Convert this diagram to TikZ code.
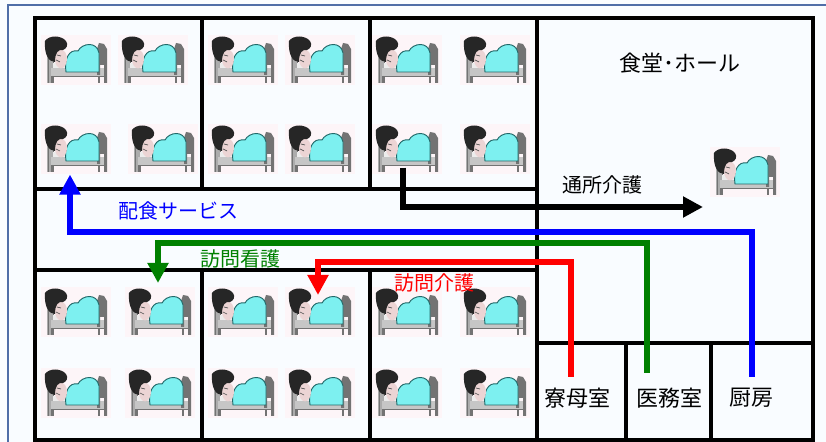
\documentclass[tikz,border=0pt]{standalone}
\usepackage{fontspec}
\setmainfont{Noto Sans CJK JP}
\usetikzlibrary{arrows.meta,calc}

\definecolor{pagebg}{RGB}{249,252,255}
\definecolor{framec}{RGB}{79,110,168}
\definecolor{bedbg}{RGB}{253,245,248}
\definecolor{blanket}{RGB}{125,240,240}
\definecolor{blanketline}{RGB}{35,105,105}
\definecolor{skin}{RGB}{236,212,212}
\definecolor{svcgreen}{RGB}{0,128,0}

\tikzset{
  wall/.style={line width=2.4pt, black, line cap=rect},
  bedbox/.style={rectangle, inner sep=0pt, minimum width=52.5pt, minimum height=37.5pt,
                 anchor=north west, fill=bedbg},
  roomlabel/.style={font=\fontsize{16.5}{18}\selectfont, inner sep=0pt},
  svclabel/.style={font=\fontsize{15}{17}\selectfont, inner sep=0pt},
  svc/.style={line width=4.5pt, -{Triangle[width=15pt,length=15pt]}, line join=miter},
  % a resident lying in bed; local units are pixels, y grows downwards
  bedicon/.pic={
    \fill[gray!65] (6,20) rectangle (13,48);
    \draw[black!55, line width=0.6pt] (7,20) -- (7,48) (12,24) -- (12,48);
    \fill[white!85!gray] (12,28) rectangle (28,34);
    \fill[gray!45] (10,33) rectangle (64,41);
    \draw[black!55, line width=0.5pt] (10,41) -- (64,41);
    \draw[black!55, line width=0.9pt] (11,41) -- (11,48) (58,41) -- (58,48);
    \fill[black!55] (56,14) -- (58,8) -- (63,9) -- (66,14) -- (66,48) -- (63,48)
       -- (63,30) -- (59,30) -- (59,40) -- (56,40) -- cycle;
    \filldraw[fill=blanket, draw=blanketline, line width=0.7pt]
       (25,37) .. controls (23,24) and (28,14) .. (37,16)
       .. controls (41,8) and (56,6) .. (58,18) -- (58,37) -- cycle;
    \fill[skin] (20,24) ellipse (4.5pt and 7pt);
    \fill[black!85] (4,6) .. controls (8,0) and (20,0) .. (25,6)
       .. controls (28,10) and (25,14) .. (22,15)
       .. controls (17,14) and (14,18) .. (14,27)
       .. controls (8,27) and (3,20) .. (4,6) -- cycle;
    \draw[black!70, line width=0.5pt] (16,20) -- (20,21) (15,25) -- (19,27);
  }
}

\newcommand\placebed[3]{%
  \node[bedbox] (#1) at (#2,#3) {};
  \pic at (#2,#3) {bedicon};
}

\begin{document}
\begin{tikzpicture}[x=0.75pt, y=-0.75pt]
  \fill[pagebg] (0,0) rectangle (826,442);
  \useasboundingbox (0,0) rectangle (826,442);

  % outer frame
  \draw[framec, line width=1.5pt] (8,450) -- (8,5) -- (830,5);

  % floor plan walls
  \draw[wall] (35,18) rectangle (813,440);
  \draw[wall] (202,18) -- (202,189) (370,18) -- (370,189);
  \draw[wall] (202,270) -- (202,440) (370,270) -- (370,440);
  \draw[wall] (537,18) -- (537,440);
  \draw[wall] (35,189) -- (537,189) (35,270) -- (537,270);
  \draw[wall] (537,343) -- (813,343);
  \draw[wall] (626,343) -- (626,440) (711,343) -- (711,440);

  % beds in the resident rooms
  \placebed{t11}{41}{35}  \placebed{t12}{118}{35}
  \placebed{t13}{208}{35} \placebed{t14}{285}{35}
  \placebed{t15}{372}{35} \placebed{t16}{460}{35}
  \placebed{t21}{41}{124}  \placebed{t22}{128}{124}
  \placebed{t23}{208}{124} \placebed{t24}{285}{124}
  \placebed{t25}{372}{124} \placebed{t26}{460}{124}
  \placebed{b11}{41}{287}  \placebed{b12}{125}{287}
  \placebed{b13}{208}{287} \placebed{b14}{285}{287}
  \placebed{b15}{372}{287} \placebed{b16}{460}{287}
  \placebed{b21}{41}{368}  \placebed{b22}{125}{368}
  \placebed{b23}{208}{368} \placebed{b24}{285}{368}
  \placebed{b25}{372}{368} \placebed{b26}{460}{368}
  % bed in the dining hall
  \placebed{hall}{710}{147}

  % room names
  \node[roomlabel] (dining) at (680,63) {食堂･ホール};
  \node[roomlabel] (ryobo)  at (577,398) {寮母室};
  \node[roomlabel] (imu)    at (669,398) {医務室};
  \node[roomlabel] (chubo)  at (751,398) {厨房};

  % service routes
  \coordinate (dayEnd) at (703,207);
  \coordinate (blueTurn) at (70,232);
  \coordinate (greenTurn) at (158,243);
  \coordinate (redTurn) at (318,262);

  \draw[svc, black] ($(t25.south)+(-4,-7)$) |- (dayEnd);
  \draw[svc, blue] ($(chubo.center)+(1,-21)$) |- (blueTurn) -- (blueTurn |- t21.south);
  \draw[svc, svcgreen] ($(imu.center)+(-22,-25)$) |- (greenTurn)
        -- ($(greenTurn |- b12.north)+(0,-4)$);
  \draw[svc, red] ($(ryobo.center)+(-6,-21)$) |- (redTurn)
        -- ($(redTurn |- b14.north)+(0,8)$);

  % service names
  \node[svclabel, black] (tsusho) at (602,185) {通所介護};
  \node[svclabel, blue] (haishoku) at (178,211) {配食サービス};
  \node[svclabel, svcgreen] (kango) at (240,259) {訪問看護};
  \node[svclabel, red] (kaigo) at (434,283) {訪問介護};
\end{tikzpicture}
\end{document}
